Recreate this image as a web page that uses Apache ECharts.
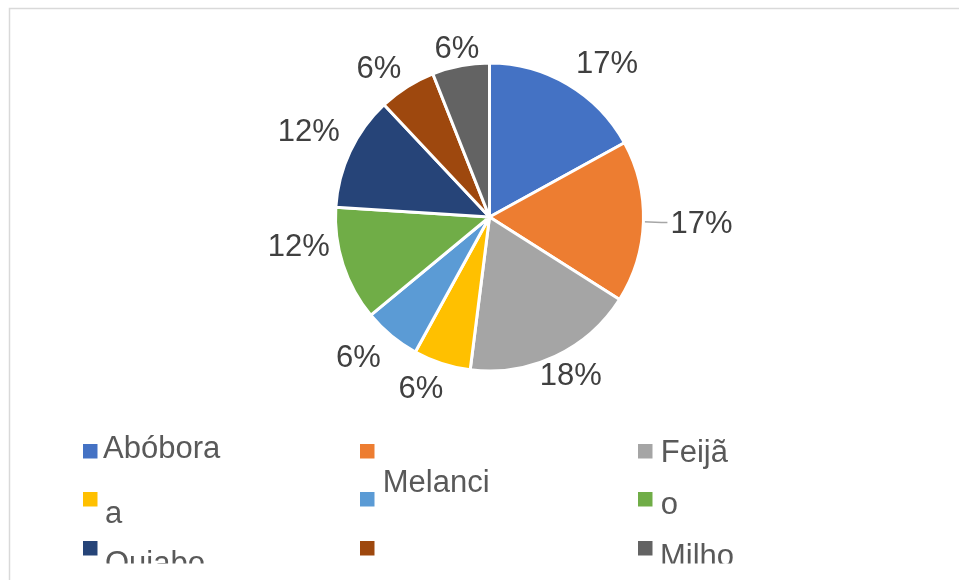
<!DOCTYPE html>
<html>
<head>
<meta charset="utf-8">
<script src="https://cdn.jsdelivr.net/npm/echarts@6/dist/echarts.min.js"></script>
<style>
  html, body { margin: 0; padding: 0; background: #ffffff; }
  #chart { width: 959px; height: 580px; }
</style>
</head>
<body>
<div id="chart"></div>
<script>
// Slice names as they appear in the legend, and their shares (percent)
const categories = ['Abóbora', '', 'Feijã', 'a', 'Melanci', 'o', 'Quiabo', '', 'Milho'];
const shares = [17, 17, 18, 6, 6, 12, 12, 6, 6];
const palette = ['#4472C4', '#ED7D31', '#A5A5A5', '#FFC000', '#5B9BD5', '#70AD47', '#264478', '#9E480E', '#636363'];

// Which slice label gets a leader line
const leaderLine = [false, true, false, false, false, false, false, false, false];
// Fine offsets for the data labels [dx, dy]
const labelNudge = [[-12, -4], [-2, 2], [-34, 4], [18, 9], [12, 9], [15, -23], [17, -11], [15, -2], [33, 1]];

// Legend grid: 3 columns x 3 rows, and per-entry text placement
const legendCols = [83, 360, 638];
const legendRows = [444, 492, 541];
const legendTextDx = [20, 22, 22.7, 22, 22.7, 22.7, 22, 22, 22];
const legendBaselineDy = [16, 16, 20.3, 33, 2.3, 24, 33.7, 16, 26.7];

const FONT = '"Liberation Sans", Arial, sans-serif';
const FS = 31;

const chart = echarts.init(document.getElementById('chart'), null, { renderer: 'canvas' });

const pieData = shares.map((v, i) => ({
  value: v,
  name: categories[i],
  itemStyle: { color: palette[i] },
  labelLine: { show: leaderLine[i] }
}));

const graphics = [];
categories.forEach((txt, i) => {
  const x = legendCols[i % 3];
  const y = legendRows[Math.floor(i / 3)];
  graphics.push({
    type: 'rect', z: 10,
    shape: { x: x, y: y, width: 14.5, height: 14.5 },
    style: { fill: palette[i] }
  });
  if (txt) {
    graphics.push({
      type: 'text', z: 10,
      style: {
        text: txt,
        x: x + legendTextDx[i],
        y: y + legendBaselineDy[i] - 0.3465 * FS,
        font: FS + 'px ' + FONT,
        fill: '#595959',
        align: 'left',
        verticalAlign: 'middle'
      }
    });
  }
});
// bottom edge of the plot frame clips the last legend row
graphics.push({
  type: 'rect', z: 20,
  shape: { x: 11, y: 563.5, width: 960, height: 20 },
  style: { fill: '#ffffff' }
});
// chart-area border
graphics.push({
  type: 'polyline', z: 30,
  shape: { points: [[9.5, 600], [9.5, 8.5], [970, 8.5]] },
  style: { stroke: '#d9d9d9', lineWidth: 1.5, fill: null }
});

chart.setOption({
  backgroundColor: '#ffffff',
  animation: false,
  series: [{
    type: 'pie',
    center: [489.5, 217],
    radius: 154,
    startAngle: 90,
    clockwise: true,
    avoidLabelOverlap: false,
    itemStyle: { borderColor: '#ffffff', borderWidth: 3 },
    label: {
      show: true,
      position: 'outside',
      formatter: (p) => shares[p.dataIndex] + '%',
      fontFamily: FONT,
      fontSize: FS,
      color: '#404040'
    },
    labelLine: {
      length: 18,
      length2: 6,
      lineStyle: { color: '#a6a6a6', width: 1.5 }
    },
    labelLayout: (p) => ({ dx: labelNudge[p.dataIndex][0], dy: labelNudge[p.dataIndex][1] }),
    emphasis: { disabled: true },
    data: pieData
  }],
  graphic: graphics
});
</script>
</body>
</html>
